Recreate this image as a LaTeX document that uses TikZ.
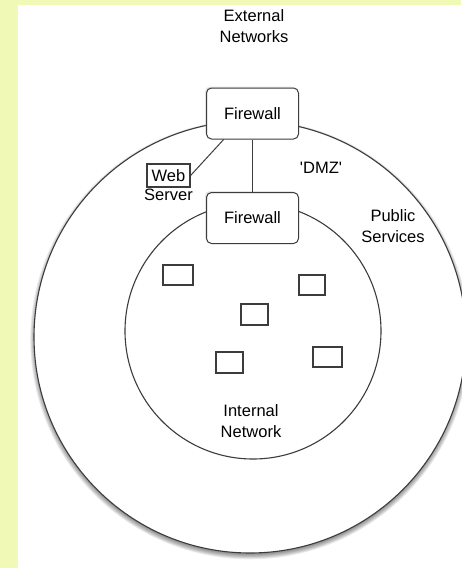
\documentclass[tikz,border=0pt]{standalone}
\usepackage{fontspec}
\setmainfont{Liberation Sans}
\usepackage{tikz}
\usetikzlibrary{shadows}

\definecolor{pagebg}{RGB}{240,250,182}
\definecolor{linegrey}{RGB}{60,60,60}

\tikzset{
  ring/.style={draw=linegrey, line width=1.1pt},
  fwbox/.style={draw=linegrey, line width=1pt, fill=white, rounded corners=5pt,
    minimum width=92pt, minimum height=51pt, inner sep=0pt,
    drop shadow={opacity=0.2, shadow xshift=-1.5pt, shadow yshift=1.5pt}},
  hostbox/.style={draw=linegrey, line width=1.2pt, fill=white, inner sep=0pt},
  lbl/.style={inner sep=0.75pt, align=center, font=\fontsize{16.5}{21.5}\selectfont}
}

\begin{document}
\begin{tikzpicture}[x=1pt,y=1pt,yscale=-1,xscale=1]
\useasboundingbox (0,0) rectangle (461,568);

% page background
\fill [pagebg] (0,0) rectangle (461,568);
\fill [white] (18,5) rectangle (461,568);

% soft shadow under the outer zone
\foreach \k in {0,...,6}
  \fill [black, opacity=0.07] (250,339.5) circle [radius=215pt+\k*0.8pt];

%Shape: Circle [outer zone]
\draw [ring, fill=white] (250,337) circle [radius=216pt];
%Shape: Circle [inner zone]
\draw [ring] (253,331) circle [radius=128pt];

% Firewalls
\node [fwbox, lbl] (fwOuter) at (252.5,113.5) {Firewall};
\node [fwbox, lbl] (fwInner) at (252.5,218) {Firewall};

% Web server
\node [hostbox, lbl, minimum width=43pt, minimum height=23pt] (web) at (168.5,175.5) {Web};
\node [lbl, anchor=north] (webLbl) at (web.south) {Server};

% Hosts on the internal network
\node [hostbox, minimum width=30pt, minimum height=20pt] (hostA) at (178,275) {};
\node [hostbox, minimum width=26pt, minimum height=20pt] (hostB) at (312,285) {};
\node [hostbox, minimum width=27pt, minimum height=21pt] (hostC) at (254.5,314.5) {};
\node [hostbox, minimum width=27pt, minimum height=21pt] (hostD) at (229.5,362.5) {};
\node [hostbox, minimum width=29pt, minimum height=20pt] (hostE) at (327.5,357) {};

% Links
\draw [linegrey, line width=1pt] (fwOuter.south) -- (fwInner.north);
\draw [linegrey, line width=1pt] (fwOuter.222) -- (web.east);

% Text Node
\node [lbl] (ext) at (254,26) {External\\Networks};
% Text Node
\node [lbl] (dmz) at (321,168) {\textquotesingle DMZ\textquotesingle};
% Text Node
\node [lbl] (pub) at (393,226) {Public\\Services};
% Text Node
\node [lbl] (intl) at (251,421) {Internal\\Network};
\end{tikzpicture}
\end{document}
